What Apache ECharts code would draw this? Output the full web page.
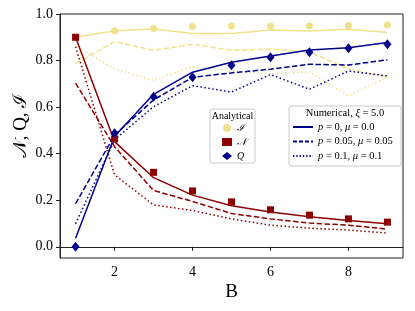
<!DOCTYPE html>
<html><head><meta charset="utf-8">
<script src="https://cdn.jsdelivr.net/npm/echarts@6/dist/echarts.min.js"></script>
<style>html,body{margin:0;padding:0;background:#fff}#c{width:415px;height:311px}</style>
</head><body><div id="c"></div>
<script>
const B = [1, 2, 3, 4, 5, 6, 7, 8, 9];
const I_analytical = [0.900, 0.928, 0.938, 0.946, 0.948, 0.948, 0.948, 0.951, 0.953];
const N_analytical = [0.900, 0.463, 0.320, 0.240, 0.193, 0.159, 0.136, 0.120, 0.106];
const Q_analytical = [0.000, 0.488, 0.645, 0.728, 0.780, 0.814, 0.836, 0.853, 0.870];
const I_p0   = [0.900, 0.928, 0.936, 0.916, 0.916, 0.931, 0.927, 0.934, 0.921];
const I_p005 = [0.788, 0.881, 0.844, 0.870, 0.844, 0.850, 0.837, 0.764, 0.728];
const I_p01  = [0.865, 0.764, 0.715, 0.773, 0.755, 0.742, 0.751, 0.649, 0.728];
const N_p0   = [0.900, 0.452, 0.297, 0.222, 0.176, 0.150, 0.129, 0.113, 0.099];
const N_p005 = [0.703, 0.430, 0.242, 0.195, 0.143, 0.120, 0.102, 0.093, 0.076];
const N_p01  = [0.860, 0.309, 0.180, 0.156, 0.120, 0.093, 0.080, 0.072, 0.059];
const Q_p0   = [0.037, 0.475, 0.655, 0.750, 0.793, 0.820, 0.845, 0.855, 0.878];
const Q_p005 = [0.185, 0.480, 0.631, 0.728, 0.747, 0.763, 0.784, 0.781, 0.803];
const Q_p01  = [0.099, 0.460, 0.602, 0.692, 0.665, 0.740, 0.677, 0.755, 0.734];
const xTicks = [2, 4, 6, 8];
const yTicks = [0, 0.2, 0.4, 0.6, 0.8, 1.0];
const analyticalLabels = {I_a: 'ℐ', N_a: '𝒩', Q_a: 'Q'};
const numericalNames = ['p0', 'p005', 'p01'];
const numericalLabels = {
  p0: '{i|p} = 0, {i|μ} = 0.0',
  p005: '{i|p} = 0.05, {i|μ} = 0.05',
  p01: '{i|p} = 0.1, {i|μ} = 0.1'
};

const SERIF = 'Liberation Serif, DejaVu Serif, serif';
const YEL = '#f0e28c', RED = '#8b0000', BLU = '#00008b';
const DASH = [5.5, 2.4], DOT = [1.5, 2.5];
const pairs = v => B.map((b, i) => [b, v[i]]);
function line(name, v, color, type) {
  return {name: name, type: 'line', data: pairs(v), symbol: 'none', z: 2,
    lineStyle: {color: color, width: 1.5, type: type}, itemStyle: {color: color}, silent: true};
}
const series = [
  line('I0', I_p0, YEL, 'solid'), line('I1', I_p005, YEL, DASH), line('I2', I_p01, YEL, DOT),
  line('N0', N_p0, RED, 'solid'), line('N1', N_p005, RED, DASH), line('N2', N_p01, RED, DOT),
  line('Q0', Q_p0, BLU, 'solid'), line('Q1', Q_p005, BLU, DASH), line('Q2', Q_p01, BLU, DOT),
  {name: 'I_a', type: 'scatter', data: pairs(I_analytical), symbol: 'circle', symbolSize: 7, itemStyle: {color: YEL, opacity: 1}, z: 3},
  {name: 'N_a', type: 'scatter', data: pairs(N_analytical), symbol: 'rect', symbolSize: 7, itemStyle: {color: RED, opacity: 1}, z: 3},
  {name: 'Q_a', type: 'scatter', data: pairs(Q_analytical), symbol: 'diamond', symbolSize: [8, 10], itemStyle: {color: BLU, opacity: 1}, z: 3},
  {name: 'p0', type: 'line', data: [], symbol: 'none', showSymbol: false, lineStyle: {color: BLU, width: 1.5, type: 'solid'}, itemStyle: {color: BLU}},
  {name: 'p005', type: 'line', data: [], symbol: 'none', showSymbol: false, lineStyle: {color: BLU, width: 1.5, type: [4, 2]}, itemStyle: {color: BLU}},
  {name: 'p01', type: 'line', data: [], symbol: 'none', showSymbol: false, lineStyle: {color: BLU, width: 1.5, type: [1.3, 2]}, itemStyle: {color: BLU}}
];

const chart = echarts.init(document.getElementById('c'), null, {renderer: 'canvas'});
chart.setOption({
  animation: false,
  backgroundColor: '#fff',
  grid: {left: 60, right: 12, top: 14, bottom: 53, show: true, borderColor: '#222', borderWidth: 1},
  xAxis: {type: 'value', min: 0.6, max: 9.4,
    axisLine: {show: true, lineStyle: {color: '#222', width: 1}},
    axisTick: {show: true, customValues: xTicks, length: 4, lineStyle: {color: '#222'}},
    axisLabel: {customValues: xTicks, fontFamily: SERIF, fontSize: 14, color: '#000', margin: 7},
    splitLine: {show: false}},
  yAxis: {type: 'value', min: -0.048, max: 1.0,
    axisLine: {show: true, lineStyle: {color: '#222', width: 1}},
    axisTick: {show: true, customValues: yTicks, length: 4, lineStyle: {color: '#222'}},
    axisLabel: {customValues: yTicks, fontFamily: SERIF, fontSize: 14, color: '#000', margin: 7,
      formatter: v => v.toFixed(1)},
    splitLine: {show: false}},
  legend: [
    {data: ['I_a', 'N_a', 'Q_a'], orient: 'vertical', left: 222, top: 122, z: 5,
     itemWidth: 10, itemHeight: 8, itemGap: 2, padding: 0,
     formatter: n => analyticalLabels[n],
     textStyle: {fontFamily: SERIF, fontSize: 10, fontStyle: 'italic', color: '#000', lineHeight: 12}},
    {data: numericalNames.map(n => ({name: n, itemStyle: {opacity: 0}})), orient: 'vertical', left: 292, top: 121, z: 5,
     itemWidth: 20, itemHeight: 8, itemGap: 2.5, padding: 0,
     formatter: n => numericalLabels[n],
     textStyle: {fontFamily: SERIF, fontSize: 10.5, color: '#000', lineHeight: 12,
       rich: {i: {fontFamily: SERIF, fontSize: 10.5, fontStyle: 'italic', color: '#000'}}}}
  ],
  graphic: [
    {type: 'rect', shape: {x: 210, y: 109, width: 45, height: 54, r: 2}, z: 4,
     style: {fill: 'rgba(255,255,255,0.85)', stroke: '#cccccc', lineWidth: 1}},
    {type: 'text', x: 232.5, y: 116, z: 5,
     style: {text: 'Analytical', font: '10px ' + SERIF, fill: '#000', align: 'center', verticalAlign: 'middle'}},
    {type: 'rect', shape: {x: 289, y: 106, width: 112, height: 60, r: 2}, z: 4,
     style: {fill: 'rgba(255,255,255,0.85)', stroke: '#cccccc', lineWidth: 1}},
    {type: 'text', x: 345, y: 113.5, z: 5,
     style: {text: 'Numerical, {i|ξ} = 5.0', font: '10.5px ' + SERIF, fill: '#000', align: 'center', verticalAlign: 'middle',
       rich: {i: {fontFamily: SERIF, fontSize: 10.5, fontStyle: 'italic'}}}},
    {type: 'text', x: 231.5, y: 292, z: 5,
     style: {text: 'B', font: '19px ' + SERIF, fill: '#000', align: 'center', verticalAlign: 'middle'}},
    {type: 'text', x: 21, y: 126, rotation: Math.PI / 2, z: 5,
     style: {text: '𝒩, Q, ℐ', font: '19px ' + SERIF, fill: '#000', align: 'center', verticalAlign: 'middle'}}
  ],
  series: series
});
</script></body></html>
